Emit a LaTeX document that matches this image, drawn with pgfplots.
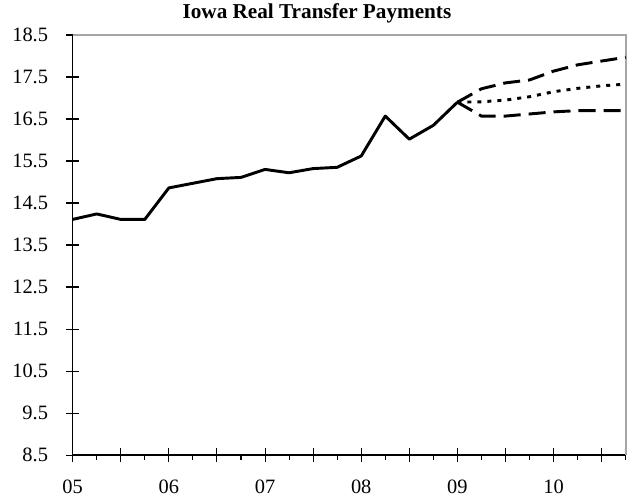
\documentclass[border=0pt]{standalone}
\usepackage{fontspec}
\setmainfont{Liberation Serif}
\usepackage{pgfplots}
\pgfplotsset{compat=1.18}

% quarters since 2005Q1
\pgfplotstableread{
q  v
0  14.11
1  14.24
2  14.11
3  14.11
4  14.86
5  14.97
6  15.08
7  15.11
8  15.30
9  15.22
10 15.32
11 15.35
12 15.62
13 16.57
14 16.02
15 16.35
16 16.90
}\hist
\pgfplotstableread{
q  hi    mid   lo
16 16.90 16.90 16.90
17 17.22 16.91 16.57
18 17.36 16.95 16.57
19 17.43 17.03 16.62
20 17.64 17.15 16.67
21 17.79 17.23 16.70
22 17.88 17.29 16.70
23 17.97 17.33 16.70
}\fcst

\begin{document}
\begin{tikzpicture}
\useasboundingbox (-54.5pt,-34.5pt) rectangle (420.2pt,341.25pt);
\begin{axis}[
  scale only axis,
  width=414.75pt, height=315pt,
  xmin=0, xmax=23, ymin=8.5, ymax=18.5,
  axis lines*=left,
  axis line style={black, line width=1.2pt},
  xtick={0,2,...,22},
  xticklabels={05,,06,,07,,08,,09,,10,},
  minor xtick={1,3,...,23},
  ytick={8.5,9.5,...,18.5},
  /pgf/number format/fixed,
  /pgf/number format/fixed zerofill,
  /pgf/number format/precision=1,
  /pgf/number format/assume math mode=true,
  tick align=center,
  major tick length=10pt,
  minor tick length=3.75pt,
  every tick/.style={black, line width=0.8pt},
  minor x tick style={yshift=-1.875pt},
  tick label style={font=\fontsize{15.3}{18}\selectfont},
  xticklabel style={anchor=center, inner sep=0pt, yshift=-19pt},
  yticklabel style={anchor=east, inner sep=0pt, xshift=-13.3pt},
  title={Iowa Real Transfer Payments},
  title style={font=\fontsize{15.9}{18}\selectfont\bfseries, at={(0.4417,1)}, anchor=base, yshift=6.4pt, inner sep=0pt},
  clip=false,
]
\draw[gray!70, line width=1.5pt] (rel axis cs:0,1) -- (rel axis cs:1,1) -- (rel axis cs:1,0);
\addplot[black, line width=2.2pt, line join=round] table[x=q, y=v] {\hist};
\addplot[black, line width=2.2pt, dash pattern=on 12.75pt off 6pt] table[x=q, y=hi] {\fcst};
\addplot[black, line width=2.2pt, dash pattern=on 3pt off 4.5pt] table[x=q, y=mid] {\fcst};
\addplot[black, line width=2.2pt, dash pattern=on 12.75pt off 6pt] table[x=q, y=lo] {\fcst};
\end{axis}
\end{tikzpicture}
\end{document}
